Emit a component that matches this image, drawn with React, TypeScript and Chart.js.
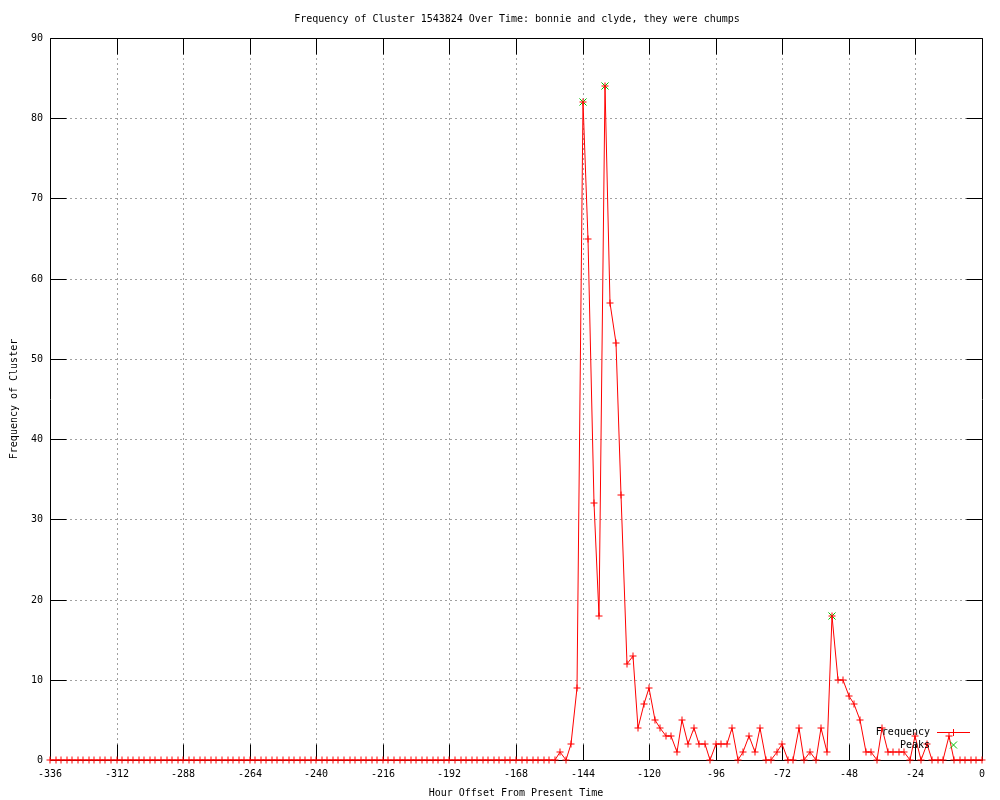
import React, { useEffect, useRef } from "react";
import { Chart, registerables } from "chart.js";

Chart.register(...registerables);

const TITLE = "Frequency of Cluster 1543824 Over Time: bonnie and clyde, they were chumps";
const X_LABEL = "Hour Offset From Present Time";
const Y_LABEL = "Frequency of Cluster";
const SERIES_FREQ = "Frequency";
const SERIES_PEAKS = "Peaks";

const HOURS = [
  -336, -334, -332, -330, -328, -326, -324, -322, -320, -318, -316, -314,
  -312, -310, -308, -306, -304, -302, -300, -298, -296, -294, -292, -290,
  -288, -286, -284, -282, -280, -278, -276, -274, -272, -270, -268, -266,
  -264, -262, -260, -258, -256, -254, -252, -250, -248, -246, -244, -242,
  -240, -238, -236, -234, -232, -230, -228, -226, -224, -222, -220, -218,
  -216, -214, -212, -210, -208, -206, -204, -202, -200, -198, -196, -194,
  -192, -190, -188, -186, -184, -182, -180, -178, -176, -174, -172, -170,
  -168, -166, -164, -162, -160, -158, -156, -154, -152, -150, -148, -146,
  -144, -142, -140, -138, -136, -134, -132, -130, -128, -126, -124, -122,
  -120, -118, -116, -114, -112, -110, -108, -106, -104, -102, -100, -98,
  -96, -94, -92, -90, -88, -86, -84, -82, -80, -78, -76, -74,
  -72, -70, -68, -66, -64, -62, -60, -58, -56, -54, -52, -50,
  -48, -46, -44, -42, -40, -38, -36, -34, -32, -30, -28, -26,
  -24, -22, -20, -18, -16, -14, -12, -10, -8, -6, -4, -2,
  0,
];

const FREQUENCY = [
  0, 0, 0, 0, 0, 0, 0, 0, 0, 0, 0, 0,
  0, 0, 0, 0, 0, 0, 0, 0, 0, 0, 0, 0,
  0, 0, 0, 0, 0, 0, 0, 0, 0, 0, 0, 0,
  0, 0, 0, 0, 0, 0, 0, 0, 0, 0, 0, 0,
  0, 0, 0, 0, 0, 0, 0, 0, 0, 0, 0, 0,
  0, 0, 0, 0, 0, 0, 0, 0, 0, 0, 0, 0,
  0, 0, 0, 0, 0, 0, 0, 0, 0, 0, 0, 0,
  0, 0, 0, 0, 0, 0, 0, 0, 1, 0, 2, 9,
  82, 65, 32, 18, 84, 57, 52, 33, 12, 13, 4, 7,
  9, 5, 4, 3, 3, 1, 5, 2, 4, 2, 2, 0,
  2, 2, 2, 4, 0, 1, 3, 1, 4, 0, 0, 1,
  2, 0, 0, 4, 0, 1, 0, 4, 1, 18, 10, 10,
  8, 7, 5, 1, 1, 0, 4, 1, 1, 1, 1, 0,
  3, 0, 2, 0, 0, 0, 3, 0, 0, 0, 0, 0,
  0,
];

const PEAK_HOURS = [-144, -136, -54];
const PEAK_VALUES = [82, 84, 18];

const X_TICKS = [-336, -312, -288, -264, -240, -216, -192, -168, -144, -120, -96, -72, -48, -24, 0];
const Y_TICKS = [0, 10, 20, 30, 40, 50, 60, 70, 80, 90];

const FONT_FAMILY = '"DejaVu Sans Mono", "Liberation Mono", monospace';
const RED = "#ff0000";
const GREEN = "#00c000";
const GRID = "#a0a0a0";
const TIC = 16;

const titlePlugin = {
  id: "gnuplotTitle",
  afterDraw(chart: any) {
    const { ctx, chartArea } = chart;
    ctx.save();
    ctx.font = `10px ${FONT_FAMILY}`;
    ctx.fillStyle = "#000";
    ctx.textAlign = "center";
    ctx.textBaseline = "middle";
    ctx.fillText(TITLE, (chartArea.left + chartArea.right) / 2 + 1, chartArea.top - 19);
    ctx.restore();
  },
};

const framePlugin = {
  id: "gnuplotFrame",
  beforeDatasetsDraw(chart: any) {
    const { ctx, chartArea, scales } = chart;
    const L = Math.round(chartArea.left) + 0.5;
    const R = Math.round(chartArea.right) + 0.5;
    const T = Math.round(chartArea.top) + 0.5;
    const B = Math.round(chartArea.bottom) + 0.5;
    ctx.save();
    ctx.strokeStyle = "#000";
    ctx.lineWidth = 1;
    ctx.setLineDash([]);
    ctx.beginPath();
    ctx.rect(L, T, R - L, B - T);
    for (const v of X_TICKS) {
      const px = Math.round(scales.x.getPixelForValue(v)) + 0.5;
      ctx.moveTo(px, B);
      ctx.lineTo(px, B - TIC);
      ctx.moveTo(px, T);
      ctx.lineTo(px, T + TIC);
    }
    for (const v of Y_TICKS) {
      const py = Math.round(scales.y.getPixelForValue(v)) + 0.5;
      ctx.moveTo(L, py);
      ctx.lineTo(L + TIC, py);
      ctx.moveTo(R, py);
      ctx.lineTo(R - TIC, py);
    }
    ctx.stroke();
    ctx.restore();
  },
};

const legendPlugin = {
  id: "gnuplotLegend",
  afterDatasetsDraw(chart: any) {
    const { ctx, chartArea } = chart;
    const right = Math.round(chartArea.right);
    const bottom = Math.round(chartArea.bottom);
    const textX = right - 52;
    const y1 = bottom - 28;
    const y2 = bottom - 15;
    const sx1 = right - 45;
    const sx2 = right - 12;
    const mx = (sx1 + sx2) / 2;
    ctx.save();
    ctx.font = `10px ${FONT_FAMILY}`;
    ctx.fillStyle = "#000";
    ctx.textAlign = "right";
    ctx.textBaseline = "middle";
    ctx.fillText(chart.data.datasets[0].label, textX, y1);
    ctx.fillText(chart.data.datasets[1].label, textX, y2);
    ctx.lineWidth = 1;
    ctx.strokeStyle = RED;
    ctx.beginPath();
    ctx.moveTo(sx1, y1 + 0.5);
    ctx.lineTo(sx2, y1 + 0.5);
    ctx.moveTo(mx, y1 - 3);
    ctx.lineTo(mx, y1 + 4);
    ctx.stroke();
    ctx.strokeStyle = GREEN;
    ctx.beginPath();
    const r = 3.5;
    ctx.moveTo(mx - r, y2 - r);
    ctx.lineTo(mx + r, y2 + r);
    ctx.moveTo(mx - r, y2 + r);
    ctx.lineTo(mx + r, y2 - r);
    ctx.stroke();
    ctx.restore();
  },
};

export default function App() {
  const canvasRef = useRef<HTMLCanvasElement | null>(null);

  useEffect(() => {
    const canvas = canvasRef.current;
    if (!canvas) return;
    const font = { family: FONT_FAMILY, size: 10, weight: "normal" as const, lineHeight: 1.2 };
    const chart = new Chart(canvas, {
      type: "line",
      data: {
        datasets: [
          {
            label: SERIES_FREQ,
            data: HOURS.map((h, i) => ({ x: h, y: FREQUENCY[i] })),
            borderColor: RED,
            backgroundColor: RED,
            borderWidth: 1,
            pointStyle: "cross",
            pointRadius: 3.5,
            pointBorderWidth: 1,
            pointBorderColor: RED,
            tension: 0,
            fill: false,
            clip: false as any,
          },
          {
            label: SERIES_PEAKS,
            data: PEAK_HOURS.map((h, i) => ({ x: h, y: PEAK_VALUES[i] })),
            showLine: false,
            borderColor: GREEN,
            backgroundColor: GREEN,
            pointStyle: "crossRot",
            pointRadius: 5,
            pointBorderWidth: 1,
            pointBorderColor: GREEN,
            clip: false as any,
          },
        ],
      },
      options: {
        responsive: false,
        animation: false,
        devicePixelRatio: 1,
        events: [],
        layout: { padding: { left: 0, right: 18, top: 38, bottom: 0 } },
        plugins: {
          legend: { display: false },
          tooltip: { enabled: false },
          title: { display: false },
        },
        scales: {
          x: {
            type: "linear",
            min: -336,
            max: 0,
            alignToPixels: true,
            afterBuildTicks: (axis: any) => {
              axis.ticks = X_TICKS.map((v) => ({ value: v }));
            },
            afterFit: (scale: any) => {
              scale.height = 40;
            },
            ticks: {
              color: "#000",
              font,
              padding: 8,
              maxRotation: 0,
              autoSkip: false,
              callback: (v: any) => String(v),
            },
            grid: {
              color: (c: any) =>
                c.tick && (c.tick.value === -336 || c.tick.value === 0) ? "rgba(0,0,0,0)" : GRID,
              lineWidth: 1,
              drawTicks: false,
            },
            border: { display: false, dash: [2, 3] },
            title: {
              display: true,
              text: X_LABEL,
              color: "#000",
              font,
              padding: { top: 0, bottom: 1 },
            },
          },
          y: {
            type: "linear",
            min: 0,
            max: 90,
            alignToPixels: true,
            afterBuildTicks: (axis: any) => {
              axis.ticks = Y_TICKS.map((v) => ({ value: v }));
            },
            afterFit: (scale: any) => {
              scale.width = 50;
            },
            ticks: {
              color: "#000",
              font,
              padding: 7,
              autoSkip: false,
              callback: (v: any) => String(v),
            },
            grid: {
              color: (c: any) =>
                c.tick && (c.tick.value === 0 || c.tick.value === 90) ? "rgba(0,0,0,0)" : GRID,
              lineWidth: 1,
              drawTicks: false,
            },
            border: { display: false, dash: [2, 3] },
            title: {
              display: true,
              text: Y_LABEL,
              color: "#000",
              font,
              padding: { top: 8, bottom: 0 },
            },
          },
        },
      },
      plugins: [framePlugin, legendPlugin, titlePlugin],
    });
    return () => chart.destroy();
  }, []);

  return (
    <div style={{ position: "fixed", left: 0, top: 0, width: 1000, height: 800, background: "#fff" }}>
      <canvas ref={canvasRef} width={1000} height={800} style={{ display: "block", width: 1000, height: 800 }} />
    </div>
  );
}
